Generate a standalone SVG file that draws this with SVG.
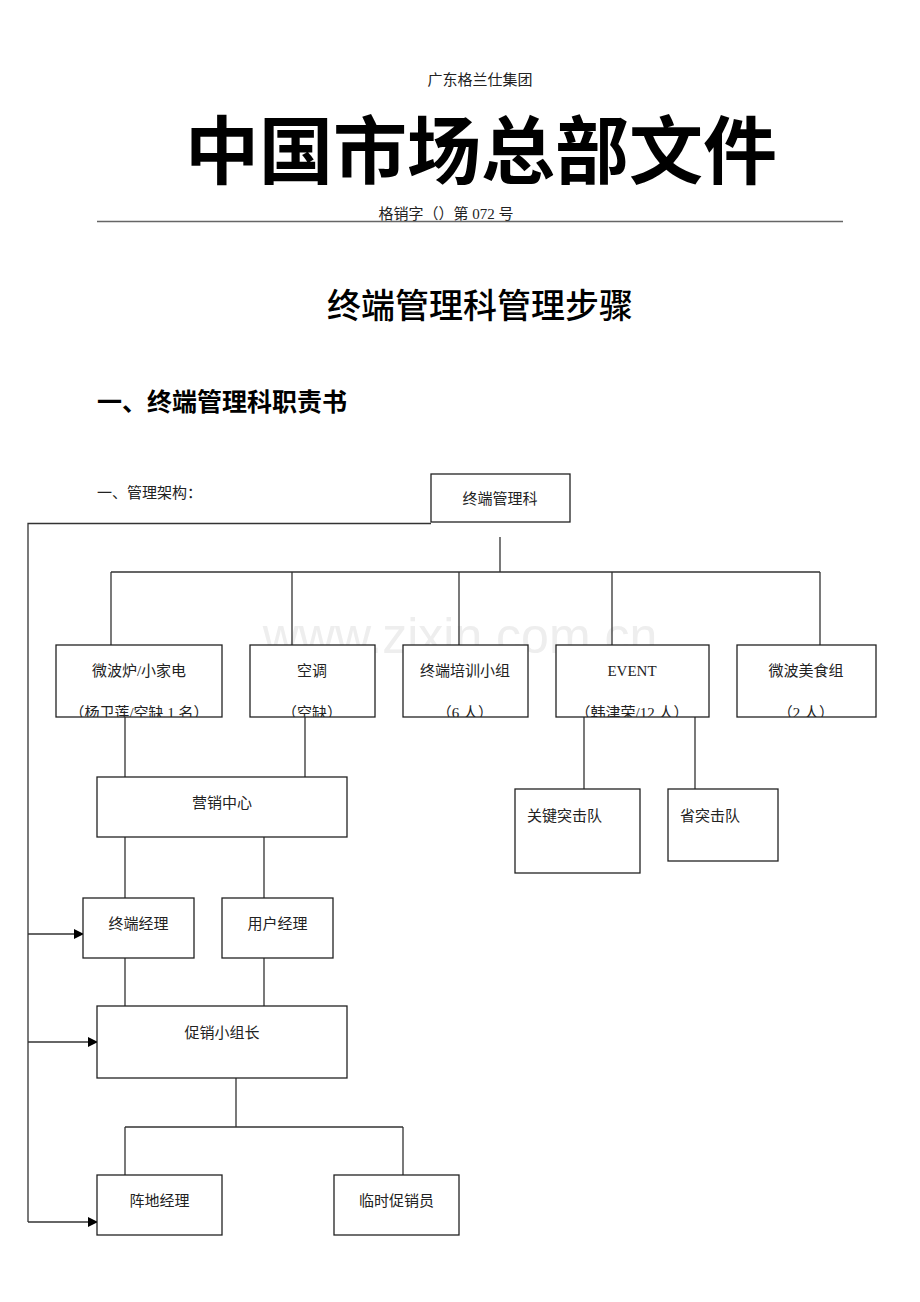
<svg xmlns="http://www.w3.org/2000/svg" width="920" height="1302" viewBox="0 0 920 1302">
<style>
.t{font-family:"Liberation Serif","Noto Sans CJK SC",serif;font-size:15px;fill:#222}
.c{text-anchor:middle}
.box{fill:#fff;stroke:#222;stroke-width:1.3}
.ln{fill:none;stroke:#333;stroke-width:1.3}
</style>
<defs>
<marker id="ar" markerWidth="10" markerHeight="10" refX="9" refY="5" orient="auto" markerUnits="userSpaceOnUse">
<path d="M0,0 L10,5 L0,10 z" fill="#000"/>
</marker>
<clipPath id="c1"><rect x="56" y="645" width="166" height="72"/></clipPath>
<clipPath id="c2"><rect x="250" y="645" width="125" height="72"/></clipPath>
<clipPath id="c3"><rect x="403" y="645" width="125" height="72"/></clipPath>
<clipPath id="c4"><rect x="556" y="645" width="153" height="72"/></clipPath>
<clipPath id="c5"><rect x="737" y="645" width="139" height="72"/></clipPath>
</defs>
<rect width="920" height="1302" fill="#fff"/>
<text class="t c" x="480" y="85" font-size="14">广东格兰仕集团</text>
<text x="481" y="178" text-anchor="middle" font-family="'Noto Sans CJK SC',sans-serif" font-weight="bold" font-size="74" fill="#000">中国市场总部文件</text>
<text class="t c" x="446" y="219" font-size="14">格销字（）第 072 号</text>
<line x1="97" y1="221.5" x2="843" y2="221.5" stroke="#666" stroke-width="1.3"/>
<text x="480" y="318" text-anchor="middle" font-family="'Noto Sans CJK SC',sans-serif" font-weight="500" font-size="34" fill="#000">终端管理科管理步骤</text>
<text x="97" y="411" font-family="'Noto Sans CJK SC',sans-serif" font-weight="bold" font-size="25" fill="#000">一、终端管理科职责书</text>
<text class="t" x="97" y="498" font-size="14">一、管理架构：</text>
<text x="460" y="653" text-anchor="middle" font-family="'Liberation Sans',sans-serif" font-size="50" fill="#eeeeee">www.zixin.com.cn</text>
<g id="connectors">
<path class="ln" d="M500,537 V572 M111,572 H820 M111,572 V645 M292,572 V645 M459,572 V645 M612,572 V645 M820,572 V645"/>
<path class="ln" d="M125,717 V777 M305,717 V777 M584,717 V789 M695,717 V789"/>
<path class="ln" d="M125,837 V898 M264,837 V898 M125,958 V1006 M264,958 V1006"/>
<path class="ln" d="M236,1078 V1127 M125,1127 H403 M125,1127 V1175 M403,1127 V1175"/>
<path class="ln" d="M431,523.5 H28 V1222"/>
<line class="ln" x1="28" y1="934" x2="83" y2="934" marker-end="url(#ar)"/>
<line class="ln" x1="28" y1="1042" x2="97" y2="1042" marker-end="url(#ar)"/>
<line class="ln" x1="28" y1="1222" x2="97" y2="1222" marker-end="url(#ar)"/>
</g>
<g id="n-root"><rect class="box" x="431" y="474" width="139" height="48"/><text class="t c" x="500" y="504">终端管理科</text></g>
<g id="n-wbl"><rect class="box" x="56" y="645" width="166" height="72"/><text class="t c" x="139" y="676">微波炉/小家电</text><g clip-path="url(#c1)"><text class="t c" x="139" y="718">（杨卫莲/空缺 1 名）</text></g></g>
<g id="n-kt"><rect class="box" x="250" y="645" width="125" height="72"/><text class="t c" x="312" y="676">空调</text><g clip-path="url(#c2)"><text class="t c" x="312" y="718">（空缺）</text></g></g>
<g id="n-px"><rect class="box" x="403" y="645" width="125" height="72"/><text class="t c" x="465" y="676">终端培训小组</text><g clip-path="url(#c3)"><text class="t c" x="465" y="718">（6 人）</text></g></g>
<g id="n-event"><rect class="box" x="556" y="645" width="153" height="72"/><text class="t c" x="632" y="676">EVENT</text><g clip-path="url(#c4)"><text class="t c" x="632" y="718">（韩津荣/12 人）</text></g></g>
<g id="n-ms"><rect class="box" x="737" y="645" width="139" height="72"/><text class="t c" x="806" y="676">微波美食组</text><g clip-path="url(#c5)"><text class="t c" x="806" y="718">（2 人）</text></g></g>
<g id="n-yx"><rect class="box" x="97" y="777" width="250" height="60"/><text class="t c" x="222" y="808">营销中心</text></g>
<g id="n-gj"><rect class="box" x="515" y="789" width="125" height="84"/><text class="t" x="527" y="821">关键突击队</text></g>
<g id="n-s"><rect class="box" x="668" y="789" width="110" height="72"/><text class="t" x="680" y="821">省突击队</text></g>
<g id="n-zd"><rect class="box" x="83" y="898" width="111" height="60"/><text class="t c" x="138.5" y="929">终端经理</text></g>
<g id="n-yh"><rect class="box" x="222" y="898" width="111" height="60"/><text class="t c" x="277.5" y="929">用户经理</text></g>
<g id="n-cx"><rect class="box" x="97" y="1006" width="250" height="72"/><text class="t c" x="222" y="1038">促销小组长</text></g>
<g id="n-zdj"><rect class="box" x="97" y="1175" width="125" height="60"/><text class="t c" x="159.5" y="1206">阵地经理</text></g>
<g id="n-ls"><rect class="box" x="334" y="1175" width="125" height="60"/><text class="t c" x="396.5" y="1206">临时促销员</text></g>
</svg>
